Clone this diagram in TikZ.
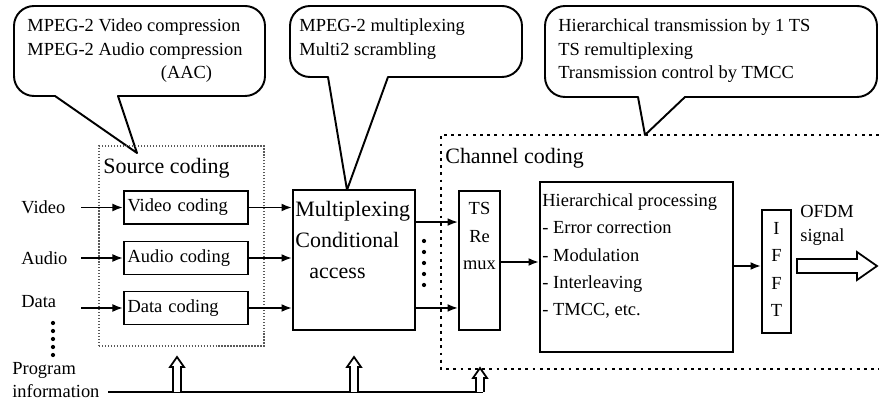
\documentclass[tikz,border=0pt]{standalone}
\usepackage{fontspec}
\setmainfont{Liberation Serif}
\usetikzlibrary{arrows.meta,calc}

\begin{document}
\begin{tikzpicture}[x=0.02cm, y=0.02cm,
		>={Latex[length=6pt,width=4.5pt]},
		txt/.style={font=\fontsize{10.5}{13.6}\selectfont, inner sep=0pt, align=left},
		boxtxt/.style={font=\fontsize{10.5}{15.6}\selectfont, inner sep=0pt},
		bigtxt/.style={font=\fontsize{12.5}{17.6}\selectfont, inner sep=0pt, align=left},
		block/.style={draw, line width=1.1pt, inner sep=0pt},
		coder/.style={block, font=\fontsize{10.5}{12}\selectfont, inner xsep=2pt, text width=2.34cm, align=left, minimum height=0.66cm},
		bubble/.style={draw, line width=1.1pt, line join=round},
		flow/.style={->, line width=1pt},
		hollow/.style={draw, line width=1pt, fill=white, line join=miter},
		srcframe/.style={draw, densely dotted, line width=0.7pt, gray!70!black},
		chanframe/.style={line width=1.6pt, dash pattern=on 1.6pt off 2.5pt}]
	\useasboundingbox (0,0) rectangle (879,402);

	% CALLOUTS
	\draw[bubble] (55,306) -- (34,306) arc[start angle=270, end angle=180, radius=0.4cm]
		-- (14,376) arc[start angle=180, end angle=90, radius=0.4cm]
		-- (245,396) arc[start angle=90, end angle=0, radius=0.4cm]
		-- (265,326) arc[start angle=0, end angle=-90, radius=0.4cm]
		-- (118,306) -- (137,249) -- cycle;
	\node[txt, anchor=north west] (note1) at (27,384) {MPEG-2 Video compression\\MPEG-2 Audio compression\\\hspace*{76pt}(AAC)};

	\draw[bubble] (328,325) -- (310,325) arc[start angle=270, end angle=180, radius=0.4cm]
		-- (290,376) arc[start angle=180, end angle=90, radius=0.4cm]
		-- (502,396) arc[start angle=90, end angle=0, radius=0.4cm]
		-- (522,345) arc[start angle=0, end angle=-90, radius=0.4cm]
		-- (388,325) -- (347,212) -- cycle;
	\node[txt, anchor=north west] (note2) at (299,384) {MPEG-2 multiplexing\\Multi2 scrambling};

	\draw[bubble] (638,305) -- (565,305) arc[start angle=270, end angle=180, radius=0.4cm]
		-- (545,376) arc[start angle=180, end angle=90, radius=0.4cm]
		-- (857,396) arc[start angle=90, end angle=0, radius=0.4cm]
		-- (877,325) arc[start angle=0, end angle=-90, radius=0.4cm]
		-- (685,305) -- (645,267) -- cycle;
	\node[txt, anchor=north west] (note3) at (558,384) {Hierarchical transmission by 1 TS\\TS remultiplexing\\Transmission control by TMCC};

	% SOURCE CODING
	\node[srcframe, minimum width=3.3cm, minimum height=4cm] (src) at (181.5,156) {};
	\node[bigtxt, anchor=west] (srclabel) at (103,234) {Source coding};
	\node[coder] (vcod) at (186,194.5) {Video coding};
	\node[coder] (acod) at (186,144) {Audio coding};
	\node[coder] (dcod) at (186,94) {Data coding};

	\node[txt, anchor=west] (vin) at (21,195) {Video};
	\node[txt, anchor=west] (ain) at (21,144) {Audio};
	\node[txt, anchor=west] (din) at (21,100) {Data};
	\foreach \y in {79,71,63,55,47}
		\fill (53,\y) circle[radius=1.2pt];
	\node[txt, anchor=west] (prog) at (12,22) {Program\\information};

	\draw[flow] ($(vcod.west)+(-42,0)$) -- (vcod.west);
	\draw[flow] ($(acod.west)+(-42,0)$) -- (acod.west);
	\draw[flow] ($(dcod.west)+(-42,0)$) -- (dcod.west);

	% MULTIPLEXING
	\node[block, minimum width=2.44cm, minimum height=2.8cm] (mux) at (354,142) {};
	\node[bigtxt, anchor=north west] (muxtxt) at ($(mux.north west)+(3,-12)$) {Multiplexing\\Conditional\\\hspace*{8pt}access};
	\draw[flow] (vcod.east) -- (vcod.east -| mux.west);
	\draw[flow] (acod.east) -- (acod.east -| mux.west);
	\draw[flow] (dcod.east) -- (dcod.east -| mux.west);

	% CHANNEL CODING
	\draw[chanframe] (879,267) -- (441,267) -- (441,33) -- (879,33);
	\node[bigtxt, anchor=west] (chanlabel) at (445,244) {Channel coding};

	\node[block, minimum width=0.82cm, minimum height=2.78cm] (ts) at (479.5,141.5) {};
	\node[boxtxt, anchor=north, align=center] (tstxt) at ($(ts.north)+(0,-12)$) {TS\\Re\\mux};
	\coordinate (muxout1) at ($(mux.north east)+(0,-33)$);
	\coordinate (muxout2) at ($(mux.south east)+(0,23)$);
	\draw[flow] (muxout1) -- (muxout1 -| ts.west);
	\draw[flow] (muxout2) -- (muxout2 -| ts.west);
	\foreach \y in {161,150,139,128,117}
		\fill (424,\y) circle[radius=1.2pt];

	\node[block, minimum width=3.86cm, minimum height=3.4cm] (hp) at (636.5,135) {};
	\node[boxtxt, anchor=north west, align=left] (hptxt) at ($(hp.north west)+(3,-12)$) {Hierarchical processing\\- Error correction\\- Modulation\\- Interleaving\\- TMCC, etc.};
	\draw[flow] (ts.east |- 0,140) -- (hp.west |- 0,140);

	\node[block, minimum width=0.58cm, minimum height=2.46cm] (ifft) at (776.5,130.5) {};
	\node[boxtxt, anchor=north, align=center] (iffttxt) at ($(ifft.north)+(0,-13)$) {I\\F\\F\\T};
	\draw[flow] (hp.east |- 0,136) -- (ifft.west |- 0,136);

	% OUTPUT
	\node[txt, anchor=north west] (ofdm) at (800,197) {OFDM\\signal};
	\draw[hollow] (797,129) -- (857,129) -- (857,122) -- (877,136) -- (857,150) -- (857,143) -- (797,143) -- cycle;

	% PROGRAM INFORMATION
	\draw[line width=1.5pt] (108,10) -- (483,10);
	\foreach \ax/\at in {177/45, 354/45, 480/34}
		\draw[hollow] (\ax-4,10) -- (\ax-4,\at-10) -- (\ax-7,\at-10) -- (\ax,\at) -- (\ax+7,\at-10) -- (\ax+4,\at-10) -- (\ax+4,10);
\end{tikzpicture}
\end{document}
